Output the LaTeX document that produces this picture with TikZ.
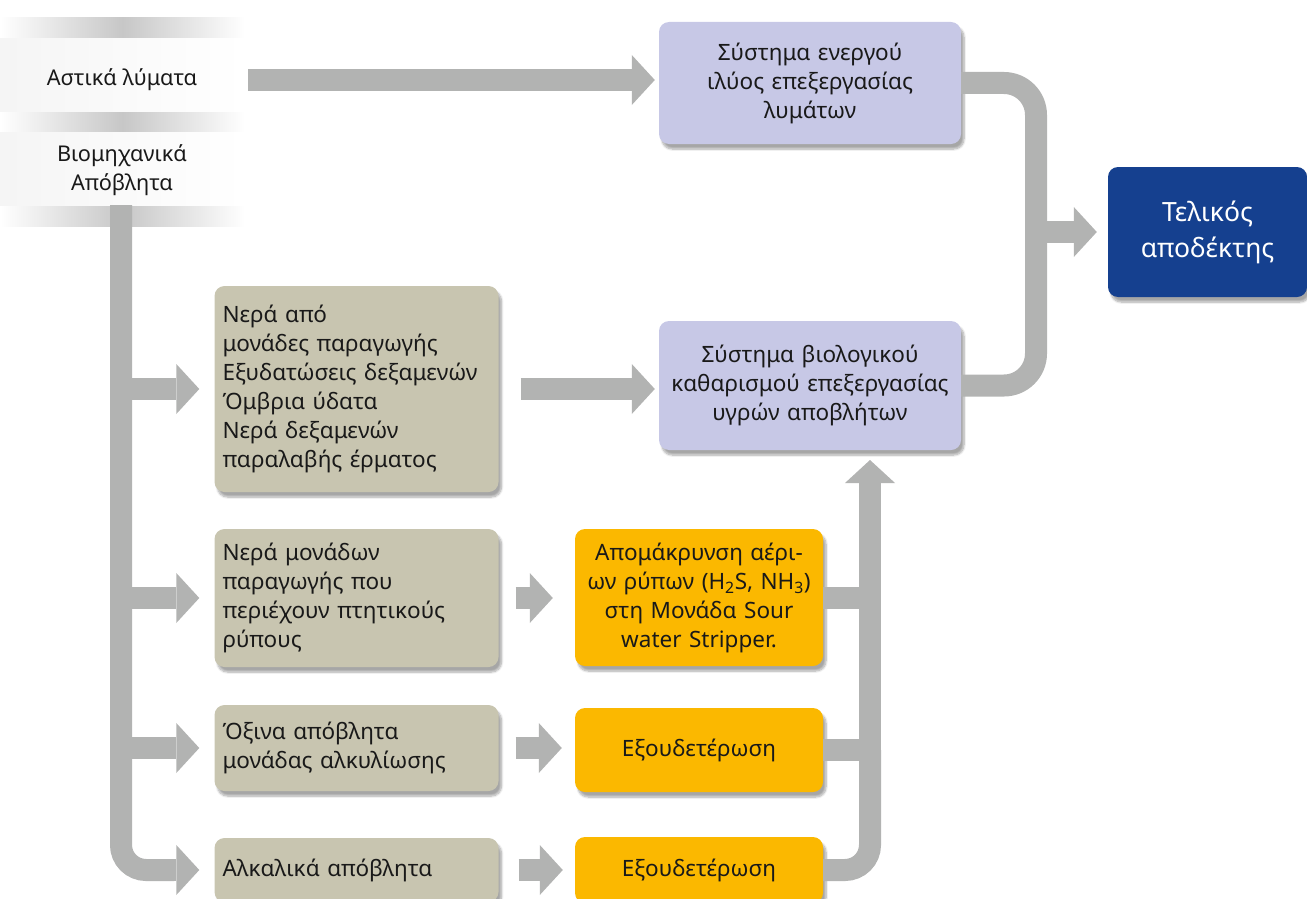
\documentclass[tikz,border=0pt]{standalone}
\usepackage{fontspec}
\setmainfont{Noto Sans}
\usetikzlibrary{arrows.meta,shadows.blur}
\definecolor{stone}{HTML}{C8C5B0}
\definecolor{lilac}{HTML}{C7C8E6}
\definecolor{navy}{HTML}{15408F}
\definecolor{amber}{HTML}{FBB800}
\definecolor{pipegray}{HTML}{B2B3B2}

\begin{document}
\begin{tikzpicture}[x=1pt,y=-1pt,
      every node/.style={text=black!90},
      box/.style={rounded corners=10pt,inner sep=8pt,
        font=\fontsize{22.5}{29}\selectfont,
        blur shadow={shadow xshift=3pt,shadow yshift=-5pt,shadow blur steps=8,shadow opacity=35}},
      source/.style={box,fill=stone,align=left,text width=268pt,minimum width=283pt},
      plant/.style={box,fill=lilac,align=center,text width=286pt,minimum width=302pt},
      treat/.style={box,fill=amber,align=center,text width=232pt,minimum width=248pt},
      label/.style={font=\fontsize{21.7}{29}\selectfont,align=center,minimum width=246pt},
      pipe/.style={draw=pipegray,line width=22pt},
      flow/.style={pipe,-{Triangle[length=23pt,width=50pt,line width=0pt]}}]
    \useasboundingbox (0,0) rectangle (1307,899);

    \foreach \y in {18,111,205}
      \shade[left color=white,right color=white,middle color=black!22] (0,\y) rectangle (245,\y+21);
    \foreach \a/\b in {39/111,132/205}
      \shade[left color=black!4,right color=white] (0,\a) rectangle (245,\b);

    \node[label] (urban) at (122,80) {Αστικά λύματα};
    \node[label] (ind) at (122,170) {Βιομηχανικά\\Απόβλητα};

    \node[plant,minimum height=122pt] (ael) at (810,83) {Σύστημα ενεργού\\ιλύος επεξεργασίας\\λυμάτων};
    \node[plant,minimum height=129pt] (bio) at (810,385.5) {Σύστημα βιολογικού\\καθαρισμού επεξεργασίας\\υγρών αποβλήτων};
    \node[box,fill=navy,text=white,align=center,minimum width=199pt,minimum height=130pt,
      font=\fontsize{26.5}{36}\selectfont] (final) at (1207.5,232) {Τελικός\\αποδέκτης};

    \node[source,minimum height=206pt] (waters) at (356.5,389) {Νερά από\\μονάδες παραγωγής\\Εξυδατώσεις δεξαμενών\\Όμβρια ύδατα\\Νερά δεξαμενών\\παραλαβής έρματος};
    \node[source,minimum height=138pt] (volat) at (356.5,598) {Νερά μονάδων\\παραγωγής που\\περιέχουν πτητικούς\\ρύπους};
    \node[source,minimum height=86pt] (acid) at (356.5,748) {Όξινα απόβλητα\\μονάδας αλκυλίωσης};
    \node[source,minimum height=64pt] (alk) at (356.5,870) {Αλκαλικά απόβλητα};

    \node[treat,minimum height=137pt] (sws) at (699,597.5) {Απομάκρυνση αέρι-\\ων ρύπων (H\textsubscript{2}S, NH\textsubscript{3})\\στη Μονάδα Sour\\water Stripper.};
    \node[treat,minimum height=84pt] (neu1) at (699,750) {Εξουδετέρωση};
    \node[treat,minimum height=66pt] (neu2) at (699,870) {Εξουδετέρωση};

    \coordinate (trunk) at (121,205);
    \coordinate (bar) at (1036,232);
    \coordinate (riser) at (870,450);

    \draw[flow,shorten <=3pt,shorten >=4pt] (urban.east) -- (urban.east -| ael.west);

    \draw[pipe,rounded corners=25pt,shorten >=40pt] (trunk) |- (alk.west);
    \draw[flow,shorten >=15pt] (trunk |- waters.west) -- (waters.west);
    \draw[flow,shorten >=15pt] (trunk |- volat.west) -- (volat.west);
    \draw[flow,shorten >=15pt] (trunk |- acid.west) -- (acid.west);
    \draw[flow,shorten <=40pt,shorten >=15pt] (trunk |- alk.west) -- (alk.west);

    \draw[flow,shorten <=22pt,shorten >=4pt] (waters.east) -- (waters.east -| bio.west);
    \draw[flow,shorten <=17pt,shorten >=22pt] (volat.east) -- (volat.east -| sws.west);
    \draw[flow,shorten <=17pt,shorten >=13pt] (acid.east) -- (acid.east -| neu1.west);
    \draw[flow,shorten <=20pt,shorten >=12pt] (alk.east) -- (alk.east -| neu2.west);

    \draw[pipe] (sws.east) -- (sws.east -| riser);
    \draw[pipe,rounded corners=25pt] (neu2.east) -| (riser |- neu1.east);
    \draw[flow,shorten >=10pt] (neu1.east) -| (riser);

    \draw[pipe,rounded corners=32pt] (ael.east) -| (bar) |- (bio.east);
    \draw[flow,shorten >=11pt] (bar) -- (final.west);
  \end{tikzpicture}
\end{document}
